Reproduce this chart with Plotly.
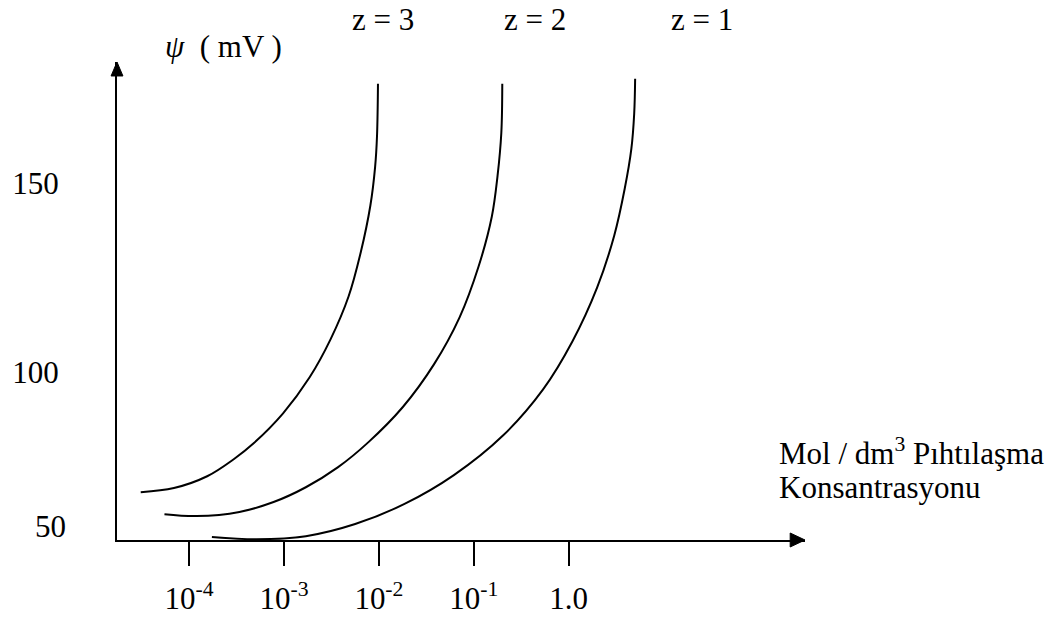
import plotly.graph_objects as go

# Horizontal axis: log10 of coagulation concentration (mol/dm3)
decades = [-4, -3, -2, -1, 0]
decade_labels = ["10<sup>-4</sup>", "10<sup>-3</sup>", "10<sup>-2</sup>",
                 "10<sup>-1</sup>", "1.0"]

# Vertical axis: surface potential psi (mV); the origin is marked 50
psi_ticks = [100, 150]
psi_labels = ["100", "150"]
origin_label = "50"

# Critical coagulation curves for counter-ion valence z = 3, 2, 1
z3_logc = [-4.51, -4.16, -3.81, -3.53, -3.32, -3.01, -2.73, -2.51, -2.32,
           -2.19, -2.09, -2.04, -2.02, -2.01]
z3_psi = [68.4, 69.5, 72.6, 77.1, 81.3, 89.2, 98.7, 108.7, 120.0,
          131.8, 144.0, 154.2, 162.4, 176.1]

z2_logc = [-4.26, -3.92, -3.47, -3.11, -2.77, -2.43, -2.11, -1.75, -1.42,
           -1.15, -0.95, -0.81, -0.75, -0.71, -0.70]
z2_psi = [62.6, 62.1, 63.2, 65.8, 69.7, 75.0, 81.6, 90.8, 102.1,
          114.5, 127.9, 141.1, 151.8, 163.2, 176.1]

z1_logc = [-3.76, -3.29, -2.77, -2.25, -1.73, -1.21, -0.69, -0.27, 0.04,
           0.30, 0.48, 0.59, 0.66, 0.69, 0.70]
z1_psi = [56.6, 56.0, 56.8, 60.0, 65.3, 72.9, 83.4, 95.5, 108.2,
          122.4, 136.1, 148.4, 158.9, 168.2, 177.4]

curve_labels = ["z = 3", "z = 2", "z = 1"]

# Page and plot-area geometry (pixels)
W, H = 1064, 628
LEFT, RIGHT, TOP, BOTTOM = 109, 805, 62, 541
PW, PH = RIGHT - LEFT, BOTTOM - TOP

X_RANGE = [-4.76, 2.49]
Y_RANGE = [55.79, 181.84]

FONT = "Liberation Serif, Times New Roman, serif"
FS = 31


def px_x(px):
    return (px - LEFT) / PW


def px_y(py):
    return (BOTTOM - py) / PH


fig = go.Figure()
for xs, ys in [(z3_logc, z3_psi), (z2_logc, z2_psi), (z1_logc, z1_psi)]:
    fig.add_trace(go.Scatter(x=xs, y=ys, mode="lines",
                             line=dict(color="black", width=2, shape="spline",
                                       smoothing=1.0),
                             hoverinfo="skip", showlegend=False))

# Arrowheads at the ends of both axes
head_len, head_half = 14, 6
up = (f"M {px_x(LEFT)} 1 L {px_x(LEFT - head_half)} {px_y(TOP + head_len)} "
      f"L {px_x(LEFT + head_half)} {px_y(TOP + head_len)} Z")
right = (f"M 1 {px_y(BOTTOM)} L {px_x(RIGHT - head_len - 1)} {px_y(BOTTOM - head_half - 1)} "
         f"L {px_x(RIGHT - head_len - 1)} {px_y(BOTTOM + head_half + 1)} Z")
shapes = [dict(type="path", xref="paper", yref="paper", path=p,
               fillcolor="black", line=dict(color="black", width=1))
          for p in (up, right)]

text_font = dict(family=FONT, size=FS, color="black")
annotations = []
# Curve labels along the top
for text, left_px in zip(curve_labels, [345, 498, 667]):
    annotations.append(dict(text=text, xref="paper", yref="paper",
                            x=px_x(left_px), y=px_y(19), xanchor="left",
                            yanchor="middle", showarrow=False, font=text_font))
# Label at the origin of the potential axis
annotations.append(dict(text=origin_label, xref="paper", yref="paper",
                        x=px_x(59), y=px_y(527), xanchor="right",
                        yanchor="middle", showarrow=False, font=text_font))
# Axis titles
annotations.append(dict(text="<i>ψ</i>  ( mV )", xref="paper", yref="paper",
                        x=px_x(156), y=px_y(46), xanchor="left", yanchor="middle",
                        showarrow=False, font=text_font))
annotations.append(dict(text="Mol / dm<sup>3</sup> Pıhtılaşma", xref="paper",
                        yref="paper", x=px_x(777), y=px_y(452), xanchor="left",
                        yanchor="middle", showarrow=False, font=text_font))
annotations.append(dict(text="Konsantrasyonu", xref="paper", yref="paper",
                        x=px_x(777), y=px_y(488), xanchor="left",
                        yanchor="middle", showarrow=False, font=text_font))

fig.update_layout(
    width=W, height=H,
    margin=dict(l=LEFT, r=W - RIGHT, t=TOP, b=H - BOTTOM, pad=0),
    paper_bgcolor="white", plot_bgcolor="white",
    shapes=shapes, annotations=annotations,
    xaxis=dict(range=X_RANGE, tickvals=decades, ticktext=decade_labels,
               showgrid=False, zeroline=False, showline=True, linecolor="black",
               linewidth=2, ticks="outside", ticklen=24, tickwidth=2,
               tickcolor="black", ticklabelstandoff=6,
               tickfont=text_font),
    yaxis=dict(range=Y_RANGE, tickvals=psi_ticks, ticktext=psi_labels,
               showgrid=False, zeroline=False, showline=True, linecolor="black",
               linewidth=2, ticks="", ticklabelstandoff=50,
               tickfont=text_font),
)

fig.write_html("out.html")
